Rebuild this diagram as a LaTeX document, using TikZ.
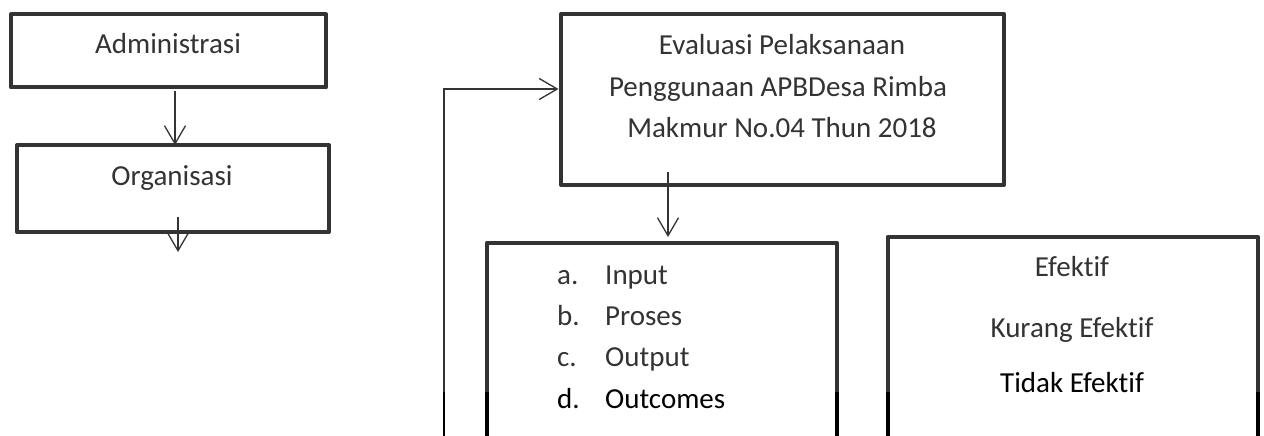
\documentclass[tikz,border=0pt]{standalone}
\usepackage{fontspec}
\setmainfont{Carlito}[Ligatures=NoCommon]
\usetikzlibrary{arrows.meta}
\definecolor{ink}{HTML}{333333}
\begin{document}
\begin{tikzpicture}[x=1pt,y=-1pt,
  box/.style={draw=ink, line width=4pt, line join=round, inner sep=0pt, outer sep=0pt},
  lbl/.style={text=ink, font=\fontsize{29}{35}\selectfont, inner sep=0pt, anchor=base},
  lblw/.style={lbl, anchor=base west},
  arr/.style={draw=ink, line width=1.3pt, -{Straight Barb[length=18pt,width=21pt]}}]
\useasboundingbox (0,0) rectangle (1264,436);
\clip (0,0) rectangle (1264,436);

% boxes
\node[box, minimum width=315pt, minimum height=73pt]  (adm)  at (168.5,51)   {};
\node[box, minimum width=312pt, minimum height=87pt]  (org)  at (173,188.5)  {};
\node[box, minimum width=443pt, minimum height=171pt] (eval) at (782.5,99.5) {};
\node[box, minimum width=350.5pt, minimum height=227pt] (mid) at (662,356.5) {};
\node[box, minimum width=370.5pt, minimum height=233pt] (rt)  at (1072.75,353.5) {};

% box texts
\node[lbl] (tadm) at (168,54)  {Administrasi};
\node[lbl] (torg) at (172,185) {Organisasi};
\node[lbl] (ev1) at (782,54.5)  {Evaluasi Pelaksanaan};
\node[lbl] (ev2) at (778,96)    {Penggunaan APBDesa Rimba};
\node[lbl] (ev3) at (782,137.5) {Makmur No.04 Thun 2018};

\node[lblw] (la) at (557,284)   {a.};
\node[lblw] (ta) at (605,284)   {Input};
\node[lblw] (lb) at (557,325.3) {b.};
\node[lblw] (tb) at (605,325.3) {Proses};
\node[lblw] (lc) at (557,366.6) {c.};
\node[lblw] (tc) at (605,366.6) {Output};
\node[lblw, text=black] (ld) at (557,408) {d.};
\node[lblw, text=black] (td) at (605,408) {Outcomes};

\node[lbl] (r1) at (1072,276)  {Efektif};
\node[lbl] (r2) at (1072,337.5) {Kurang Efektif};
\node[lbl, text=black] (r3) at (1072,392.5) {Tidak Efektif};

% connectors
\coordinate (a1) at (175,0);
\draw[arr, shorten <=3pt] (adm.south -| a1) -- (org.north -| a1);
\coordinate (orgout) at (178,252);
\draw[arr] ([yshift=15pt]org.south -| orgout) -- (orgout);
\coordinate (a2) at (668,0);
\draw[arr, shorten >=6pt] ([yshift=13pt]eval.south -| a2) -- (mid.north -| a2);
\coordinate (fbBottom) at (444,450);
\coordinate (fbTurn) at (444,89);
\draw[arr, shorten >=2.5pt] (fbBottom) -- (fbTurn) -- (fbTurn -| eval.west);

% lower strip printed in full black
\begin{scope}
  \clip (0,392) rectangle (1264,436);
  \draw[black, line width=4pt] (mid.north west) -- (mid.south west)
        (mid.north east) -- (mid.south east)
        (rt.north west) -- (rt.south west)
        (rt.north east) -- (rt.south east);
  \draw[black, line width=1.3pt] (fbBottom) -- (fbTurn);
\end{scope}
\end{tikzpicture}
\end{document}
